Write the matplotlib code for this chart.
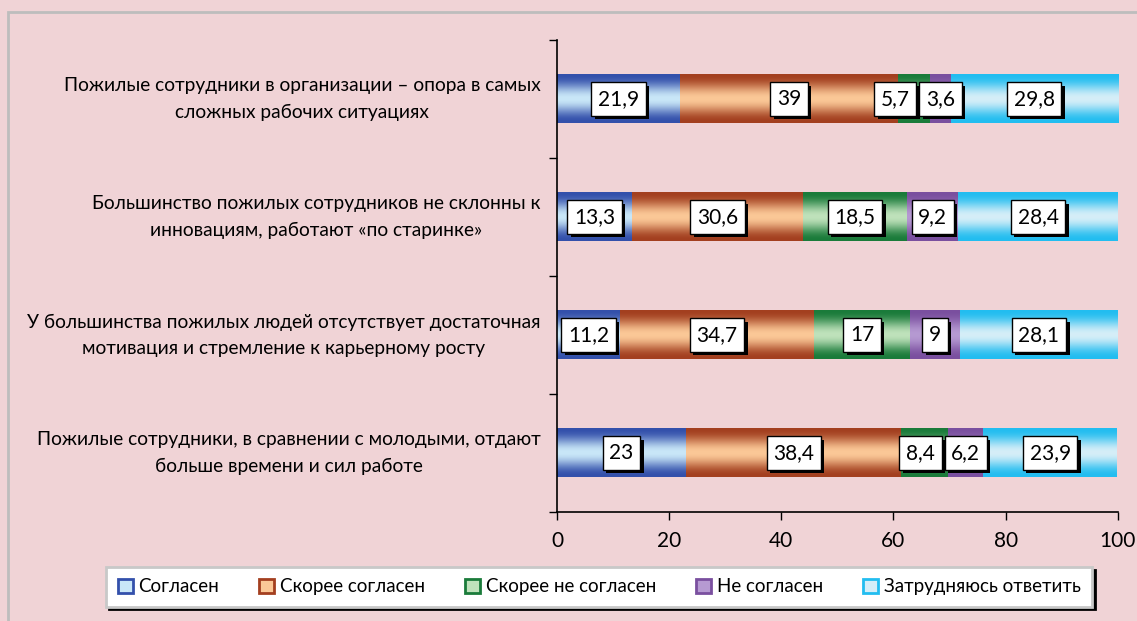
import numpy as np
import matplotlib
matplotlib.use("Agg")
import matplotlib.pyplot as plt
from matplotlib.patches import Rectangle, Patch
from matplotlib.colors import LinearSegmentedColormap
import matplotlib.patheffects as pe

plt.rcParams['font.family'] = ['Lato', 'DejaVu Sans']

# data (top to bottom as in the picture)
categories = [
    "Пожилые сотрудники в организации – опора в самых\nсложных рабочих ситуациях",
    "Большинство пожилых сотрудников не склонны к\nинновациям, работают «по старинке»",
    "У большинства пожилых людей отсутствует достаточная\nмотивация и стремление к карьерному росту",
    "Пожилые сотрудники, в сравнении с молодыми, отдают\nбольше времени и сил работе",
]
series_names = ["Согласен", "Скорее согласен", "Скорее не согласен", "Не согласен", "Затрудняюсь ответить"]
agree = [21.9, 13.3, 11.2, 23]
rather_agree = [39, 30.6, 34.7, 38.4]
rather_disagree = [5.7, 18.5, 17, 8.4]
disagree = [3.6, 9.2, 9, 6.2]
hard_to_say = [29.8, 28.4, 28.1, 23.9]
xticks = [0, 20, 40, 60, 80, 100]

series = [agree, rather_agree, rather_disagree, disagree, hard_to_say]
# (edge colour, centre colour) for the gradient fill
colors = [("#3350ab", "#c9e7f8"),
          ("#a33f1f", "#fbc897"),
          ("#1a7b3a", "#bfe2bb"),
          ("#7a4f9f", "#b69ad2"),
          ("#22bdf0", "#d5eef8")]

bg = "#f0d3d6"
fig = plt.figure(figsize=(11.37, 6.21), dpi=100, facecolor=bg)
fig.patches.append(Rectangle((8 / 1137, -0.1), 1.2, 1.1 - 12 / 621,
                             transform=fig.transFigure, fill=False,
                             edgecolor="#bdbdbd", linewidth=2, zorder=0))
ax = fig.add_axes([0.490, 0.1755, 0.493, 0.76])
ax.set_facecolor(bg)

n = len(categories)
ypos = np.arange(n)[::-1]
h = 0.41
prof = np.linspace(-1, 1, 64)
grad = (np.cos(prof * np.pi / 2) ** 2.2).reshape(-1, 1)

labels = []
for r in range(n):
    left = 0
    row_texts = []
    for s, vals in enumerate(series):
        v = vals[r]
        cmap = LinearSegmentedColormap.from_list("g%d" % s, [colors[s][0], colors[s][1]])
        ax.imshow(grad, cmap=cmap, vmin=0, vmax=1, aspect="auto",
                  extent=(left, left + v, ypos[r] - h / 2, ypos[r] + h / 2),
                  interpolation="bicubic", zorder=2)
        t = ax.text(left + v / 2, ypos[r], ("%g" % v).replace(".", ","),
                    ha="center", va="center", fontsize=15, zorder=5,
                    bbox=dict(boxstyle="square,pad=0.32", fc="white", ec="black", lw=1))
        t.get_bbox_patch().set_path_effects(
            [pe.SimplePatchShadow(offset=(2.5, -2.5), shadow_rgbFace="black", alpha=1), pe.Normal()])
        row_texts.append(t)
        left += v
    labels.append(row_texts)

ax.set_xlim(0, 100)
ax.set_ylim(-0.5, n - 0.5)
ax.set_xticks(xticks)
ax.set_xticklabels([str(x) for x in xticks], fontsize=15)
ax.set_yticks(np.arange(-0.5, n, 1))
ax.set_yticklabels([])
ax.tick_params(axis="both", direction="out", length=6, width=1, colors="black")
ax.tick_params(axis="x", pad=8)
for sp in ["top", "right"]:
    ax.spines[sp].set_visible(False)
for sp in ["left", "bottom"]:
    ax.spines[sp].set_linewidth(1.2)

for r in range(n):
    ax.text(-0.03, ypos[r], categories[r], transform=ax.get_yaxis_transform(),
            ha="right", va="center", multialignment="center", fontsize=13.8,
            linespacing=1.65)

# push overlapping value boxes apart (shift the left one)
fig.canvas.draw()
rend = fig.canvas.get_renderer()
inv = ax.transData.inverted()
for row_texts in labels:
    for i in range(len(row_texts) - 2, -1, -1):
        a = row_texts[i].get_bbox_patch().get_window_extent(rend)
        b = row_texts[i + 1].get_bbox_patch().get_window_extent(rend)
        overlap = a.x1 + 3 - b.x0
        if overlap > 0:
            x, y = row_texts[i].get_position()
            px = ax.transData.transform((x, y))
            row_texts[i].set_position(inv.transform((px[0] - overlap, px[1])))
            fig.canvas.draw()

handles = [Patch(facecolor=c[1], edgecolor=c[0], linewidth=2) for c in colors]
leg = fig.legend(handles, series_names, loc="center", bbox_to_anchor=(0.527, 0.055),
                 ncol=5, fontsize=13.5, frameon=True, fancybox=False,
                 shadow={"color": "black", "alpha": 1},
                 handlelength=0.8, handleheight=0.8, handletextpad=0.3,
                 columnspacing=2.15, borderpad=0.6)
leg.get_frame().set_edgecolor("#c8c8c8")
leg.get_frame().set_linewidth(2)

fig.savefig("out.png", dpi=100, facecolor=bg)
